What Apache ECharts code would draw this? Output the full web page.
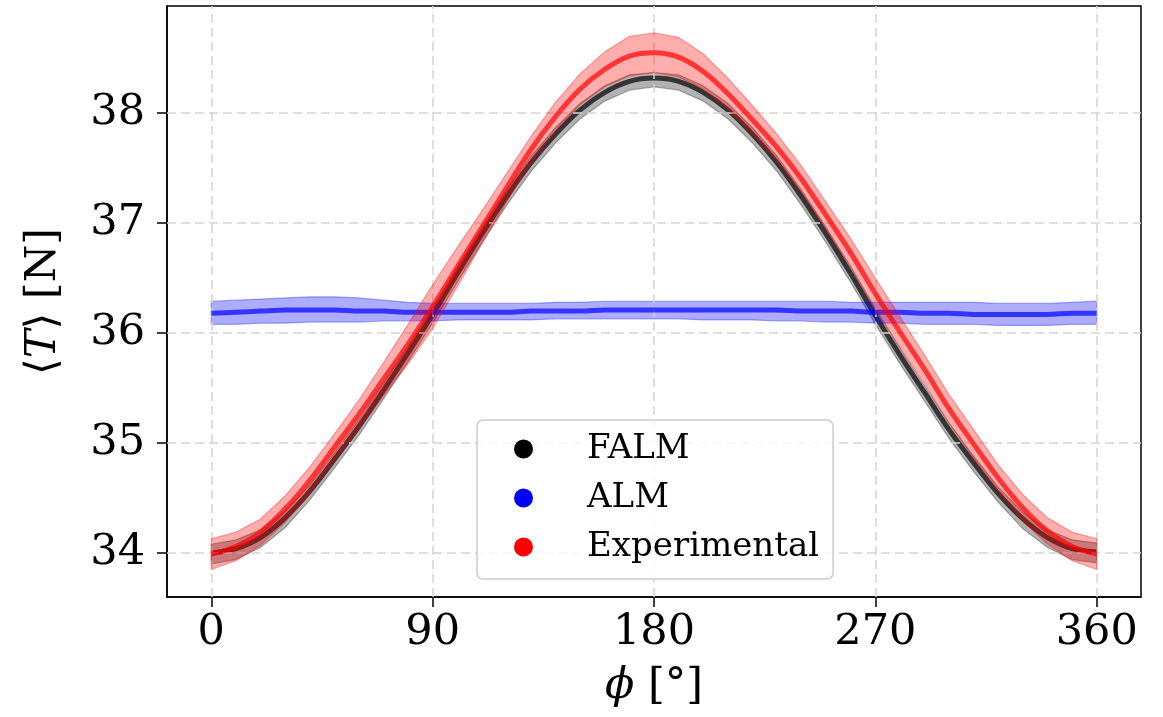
<!DOCTYPE html>
<html><head><meta charset="utf-8">
<script src="https://cdn.jsdelivr.net/npm/echarts@6/dist/echarts.min.js"></script>
<style>html,body{margin:0;padding:0;background:#fff}#c{width:1163px;height:717px}</style>
</head><body><div id="c"></div>
<script>
const phi = [0,10,20,30,40,50,60,70,80,90,100,110,120,130,140,150,160,170,180,190,200,210,220,230,240,250,260,270,280,290,300,310,320,330,340,350,360];
const xTicks = [0,90,180,270,360];
const yTicks = [34,35,36,37,38];

const falmMean = [34.00,34.04,34.14,34.32,34.56,34.85,35.15,35.48,35.82,36.17,36.54,36.90,37.24,37.55,37.81,38.03,38.19,38.29,38.32,38.29,38.19,38.03,37.81,37.55,37.24,36.90,36.54,36.16,35.80,35.46,35.12,34.82,34.54,34.31,34.14,34.04,34.01];
const falmErrLow = [0.10,0.10,0.09,0.09,0.08,0.08,0.08,0.08,0.08,0.08,0.08,0.08,0.08,0.08,0.08,0.08,0.08,0.08,0.08,0.08,0.08,0.08,0.08,0.08,0.08,0.08,0.08,0.08,0.08,0.08,0.08,0.08,0.08,0.09,0.09,0.10,0.10];
const falmErrHigh = [0.08,0.08,0.07,0.06,0.06,0.06,0.06,0.06,0.06,0.06,0.06,0.06,0.06,0.06,0.06,0.06,0.06,0.06,0.05,0.06,0.06,0.06,0.06,0.06,0.06,0.06,0.06,0.06,0.06,0.06,0.06,0.06,0.06,0.06,0.07,0.08,0.08];

const almMean = [36.18,36.19,36.20,36.21,36.21,36.21,36.20,36.20,36.19,36.19,36.19,36.19,36.19,36.20,36.20,36.20,36.21,36.21,36.21,36.21,36.21,36.21,36.21,36.21,36.20,36.20,36.20,36.19,36.19,36.18,36.18,36.17,36.17,36.17,36.17,36.18,36.18];
const almUpper = [36.29,36.30,36.31,36.32,36.33,36.33,36.32,36.30,36.28,36.27,36.27,36.27,36.27,36.27,36.28,36.28,36.29,36.29,36.29,36.29,36.29,36.29,36.29,36.29,36.29,36.29,36.28,36.28,36.28,36.28,36.28,36.28,36.27,36.27,36.27,36.28,36.29];
const almLower = [36.08,36.08,36.09,36.09,36.10,36.10,36.10,36.11,36.11,36.11,36.12,36.12,36.12,36.12,36.13,36.13,36.13,36.13,36.13,36.13,36.12,36.12,36.12,36.11,36.11,36.10,36.10,36.09,36.09,36.08,36.08,36.08,36.07,36.07,36.07,36.08,36.08];

const expMean = [33.99,34.06,34.19,34.40,34.66,34.96,35.26,35.58,35.90,36.24,36.60,36.96,37.32,37.67,37.97,38.22,38.40,38.52,38.55,38.51,38.38,38.18,37.94,37.69,37.40,37.07,36.73,36.36,36.01,35.67,35.31,34.99,34.68,34.41,34.20,34.06,33.99];
const expErr = [0.14,0.13,0.12,0.12,0.12,0.12,0.13,0.15,0.18,0.20,0.18,0.15,0.13,0.12,0.13,0.14,0.16,0.18,0.18,0.18,0.16,0.14,0.13,0.12,0.12,0.12,0.13,0.14,0.14,0.13,0.13,0.13,0.12,0.12,0.12,0.13,0.14];

const FONT = 'DejaVu Serif';

function band(lower, upper, color, z) {
  return {
    type: 'custom', silent: true, z: z, clip: true,
    data: [[0, 36]],
    renderItem: function (params, api) {
      const pts = [];
      for (let i = 0; i < phi.length; i++) pts.push(api.coord([phi[i], upper[i]]));
      for (let i = phi.length - 1; i >= 0; i--) pts.push(api.coord([phi[i], lower[i]]));
      return { type: 'polygon', shape: { points: pts }, style: { fill: color, stroke: color, lineWidth: 1.2 } };
    }
  };
}
function line(name, mean, color, legendColor, z) {
  return {
    type: 'line', name: name, z: z, showSymbol: false, smooth: 0.3, silent: true,
    data: phi.map((p, i) => [p, mean[i]]),
    lineStyle: { color: color, width: 5 },
    itemStyle: { color: legendColor }
  };
}
const falmLo = falmMean.map((v, i) => v - falmErrLow[i]);
const falmHi = falmMean.map((v, i) => v + falmErrHigh[i]);
const expLo = expMean.map((v, i) => v - expErr[i]);
const expHi = expMean.map((v, i) => v + expErr[i]);

const gridStyle = { color: '#d4d4d4', width: 1.5, type: [9, 5] };

const chart = echarts.init(document.getElementById('c'), null, { renderer: 'canvas' });
chart.setOption({
  animation: false,
  backgroundColor: '#fff',
  grid: { left: 167, right: 22, top: 6, bottom: 120, show: true, borderColor: '#000', borderWidth: 1.5, backgroundColor: 'transparent' },
  xAxis: {
    type: 'value', min: -18, max: 378,
    axisLine: { show: true, onZero: false, lineStyle: { color: '#000', width: 1.5 } },
    axisTick: { show: true, customValues: xTicks, length: 10, lineStyle: { color: '#000', width: 1.5 } },
    axisLabel: { customValues: xTicks, fontFamily: FONT, fontSize: 43, color: '#000', margin: 14 },
    splitLine: { show: false },
    name: '{i|ϕ} [°]', nameLocation: 'middle', nameGap: 68,
    nameTextStyle: { fontFamily: FONT, fontSize: 43, color: '#000', rich: { i: { fontFamily: FONT, fontStyle: 'italic', fontSize: 43, color: '#000' } } }
  },
  yAxis: {
    type: 'value', min: 33.6, max: 38.975,
    axisLine: { show: true, onZero: false, lineStyle: { color: '#000', width: 1.5 } },
    axisTick: { show: true, customValues: yTicks, length: 10, lineStyle: { color: '#000', width: 1.5 } },
    axisLabel: { customValues: yTicks, fontFamily: FONT, fontSize: 43, color: '#000', margin: 22 },
    splitLine: { show: false },
    name: '⟨{i|T}⟩ [N]', nameLocation: 'middle', nameGap: 102, nameRotate: 90,
    nameTextStyle: { fontFamily: FONT, fontSize: 43, color: '#000', rich: { i: { fontFamily: FONT, fontStyle: 'italic', fontSize: 43, color: '#000' } } }
  },
  legend: {
    data: ['FALM', 'ALM', 'Experimental'],
    orient: 'vertical', left: 477, top: 420, icon: 'circle',
    itemWidth: 19, itemHeight: 19, itemGap: 15,
    padding: [12, 14, 15, 37],
    borderColor: '#cccccc', borderWidth: 1.5, borderRadius: 6,
    backgroundColor: 'rgba(255,255,255,0.8)',
    textStyle: { fontFamily: FONT, fontSize: 34, color: '#000', lineHeight: 34, padding: [0, 0, 0, 49] },
    z: 20
  },
  series: [
    { type: 'line', name: 'grid', data: [], z: 1, silent: true,
      markLine: { silent: true, symbol: 'none', label: { show: false }, lineStyle: gridStyle,
        data: xTicks.map(v => ({ xAxis: v })).concat(yTicks.map(v => ({ yAxis: v }))) } },
    band(falmLo, falmHi, 'rgba(0,0,0,0.3)', 2),
    line('FALM', falmMean, 'rgba(0,0,0,0.7)', '#000000', 3),
    band(almLower, almUpper, 'rgba(0,0,255,0.32)', 4),
    line('ALM', almMean, 'rgba(0,0,255,0.7)', '#0000ff', 5),
    band(expLo, expHi, 'rgba(255,0,0,0.32)', 6),
    line('Experimental', expMean, 'rgba(255,0,0,0.7)', '#ff0000', 7)
  ]
});
</script></body></html>
